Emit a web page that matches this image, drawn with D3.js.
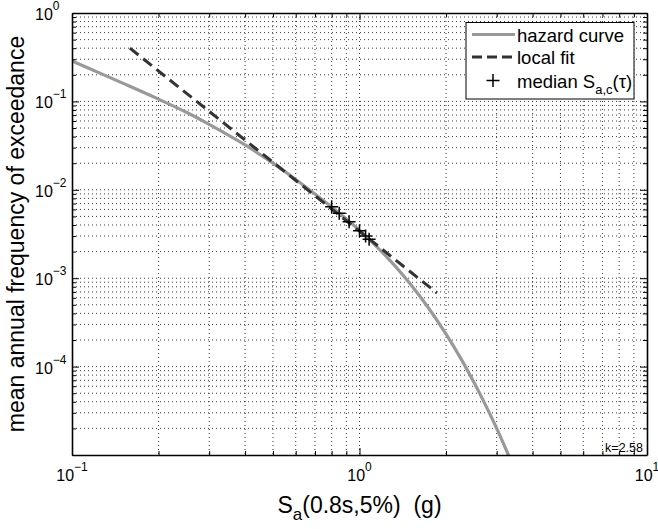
<!DOCTYPE html>
<html>
<head>
<meta charset="utf-8">
<script src="https://cdn.jsdelivr.net/npm/d3@7"></script>
<style>
  body { margin: 0; background: #fff; }
  text { font-family: "Liberation Sans", Arial, Helvetica, sans-serif; fill: #000; }
</style>
</head>
<body>
<div id="chart"></div>
<script>
// axis ranges and labelled decades
const xDomain = [0.1, 10];
const yDomain = [1e-5, 1];
const xTickExps = [-1, 0, 1];
const yTickExps = [0, -1, -2, -3, -4];

// hazard curve
const hazardSa   = [0.10, 0.125, 0.15, 0.20, 0.25, 0.30, 0.40, 0.50, 0.60, 0.80, 1.00, 1.25, 1.50, 1.75, 2.00, 2.25, 2.50, 2.75, 3.00, 3.25, 3.40];
const hazardFreq = [0.286, 0.209, 0.161, 0.106, 0.0753, 0.0551, 0.0322, 0.0200, 0.0131, 6.38e-3, 3.47e-3, 1.71e-3, 8.65e-4, 4.46e-4, 2.33e-4, 1.24e-4, 6.64e-5, 3.62e-5, 2.0e-5, 1.11e-5, 7.9e-6];

// local power-law fit (straight line in log-log)
const fitSa   = [0.159, 1.86];
const fitFreq = [0.40, 6.8e-4];

// median Sa,c(tau) points
const medianSa   = [0.80, 0.85, 0.92, 1.00, 1.05, 1.08];
const medianFreq = [6.44e-3, 5.42e-3, 4.36e-3, 3.45e-3, 3.0e-3, 2.75e-3];

const slopeLabel = "k=2.58";
const legendLabels = ["hazard curve", "local fit", "median S"];

function renderChart(selector) {
    const W = 658, H = 529;
    const margin = {top: 13, right: 11, bottom: 74, left: 72};
    const width = W - margin.left - margin.right;
    const height = H - margin.top - margin.bottom;

    const svg = d3.select(selector).append("svg")
        .attr("width", W)
        .attr("height", H);

    const g = svg.append("g")
        .attr("transform", `translate(${margin.left},${margin.top})`);

    const x = d3.scaleLog().domain(xDomain).range([0, width]);
    const y = d3.scaleLog().domain(yDomain).range([height, 0]);

    // every 1..9 x 10^n inside the domain
    const logValues = (dom) => {
        const out = [];
        const lo = Math.round(Math.log10(dom[0])), hi = Math.round(Math.log10(dom[1]));
        for (let e = lo; e <= hi; e++) {
            for (let m = 1; m <= 9; m++) {
                const v = m * Math.pow(10, e);
                if (v >= dom[0] * 0.999 && v <= dom[1] * 1.001) out.push(v);
            }
        }
        return out;
    };
    const isMajor = v => Math.abs(Math.log10(v) - Math.round(Math.log10(v))) < 1e-6;

    const xVals = logValues(xDomain);
    const yVals = logValues(yDomain);

    // dotted grid
    const grid = g.append("g").attr("class", "grid")
        .attr("stroke", "#222")
        .attr("stroke-width", 0.9)
        .attr("stroke-dasharray", "1,3");
    grid.selectAll(".gx")
        .data(xVals.filter(v => v > xDomain[0] * 1.001 && v < xDomain[1] * 0.999))
        .enter().append("line")
        .attr("x1", d => x(d)).attr("x2", d => x(d))
        .attr("y1", 0).attr("y2", height);
    grid.selectAll(".gy")
        .data(yVals.filter(v => v > yDomain[0] * 1.001 && v < yDomain[1] * 0.999))
        .enter().append("line")
        .attr("y1", d => y(d)).attr("y2", d => y(d))
        .attr("x1", 0).attr("x2", width);

    // clip for data lines
    svg.append("defs").append("clipPath").attr("id", "plot-clip")
        .append("rect").attr("width", width).attr("height", height);
    const plot = g.append("g").attr("clip-path", "url(#plot-clip)");

    const hazard = hazardSa.map((s, i) => ({s, f: hazardFreq[i]}));
    const fit = fitSa.map((s, i) => ({s, f: fitFreq[i]}));
    const medians = medianSa.map((s, i) => ({s, f: medianFreq[i]}));

    const line = d3.line()
        .x(d => x(d.s))
        .y(d => y(d.f));

    plot.append("path")
        .datum(hazard)
        .attr("fill", "none")
        .attr("stroke", "#999")
        .attr("stroke-width", 3.2)
        .attr("d", line.curve(d3.curveCatmullRom));

    plot.append("path")
        .datum(fit)
        .attr("fill", "none")
        .attr("stroke", "#333")
        .attr("stroke-width", 3)
        .attr("stroke-dasharray", "11,6")
        .attr("d", line.curve(d3.curveLinear));

    plot.selectAll(".median")
        .data(medians)
        .enter().append("path")
        .attr("class", "median")
        .attr("transform", d => `translate(${x(d.s)},${y(d.f)})`)
        .attr("d", "M-6.5,0H6.5M0,-6.5V6.5")
        .attr("stroke", "#000")
        .attr("stroke-width", 1.5);

    // axes with inward ticks on all four sides
    const tickLen = v => isMajor(v) ? 7 : 4;
    const styleAxis = (sel, horizontal, sign) => {
        sel.select(".domain").attr("stroke", "#000").attr("stroke-width", 1.6);
        sel.selectAll(".tick line")
            .attr("stroke", "#000")
            .attr("stroke-width", 1)
            .attr(horizontal ? "y2" : "x2", d => sign * tickLen(d));
        sel.selectAll(".tick text").remove();
    };

    g.append("g").attr("transform", `translate(0,${height})`)
        .call(d3.axisBottom(x).tickValues(xVals).tickSizeOuter(0).tickFormat(""))
        .call(sel => styleAxis(sel, true, -1));
    g.append("g")
        .call(d3.axisTop(x).tickValues(xVals).tickSizeOuter(0).tickFormat(""))
        .call(sel => styleAxis(sel, true, 1));
    g.append("g")
        .call(d3.axisLeft(y).tickValues(yVals).tickSizeOuter(0).tickFormat(""))
        .call(sel => styleAxis(sel, false, 1));
    g.append("g").attr("transform", `translate(${width},0)`)
        .call(d3.axisRight(y).tickValues(yVals).tickSizeOuter(0).tickFormat(""))
        .call(sel => styleAxis(sel, false, -1));

    // power-of-ten labels
    const expText = e => (e < 0 ? "\u2212" + Math.abs(e) : String(e));
    xTickExps.forEach(e => {
        const t = g.append("text")
            .attr("x", x(Math.pow(10, e)))
            .attr("y", height + 26)
            .attr("text-anchor", "middle")
            .style("font-size", "16px");
        t.append("tspan").text("10");
        t.append("tspan").attr("dy", -10).style("font-size", "12px").text(expText(e));
    });
    yTickExps.forEach(e => {
        const t = g.append("text")
            .attr("x", -37)
            .attr("y", y(Math.pow(10, e)) + 7)
            .style("font-size", "16px");
        t.append("tspan").text("10");
        t.append("tspan").attr("dy", -10).style("font-size", "12px").text(expText(e));
    });

    // axis titles
    svg.append("text")
        .attr("transform", `translate(24,${margin.top + height / 2}) rotate(-90)`)
        .attr("text-anchor", "middle")
        .style("font-size", "23px")
        .text("mean annual frequency of exceedance");

    const xl = svg.append("text")
        .attr("x", margin.left + width / 2)
        .attr("y", H - 16)
        .attr("text-anchor", "middle")
        .style("font-size", "23px");
    xl.append("tspan").text("S");
    xl.append("tspan").attr("dy", 7).style("font-size", "17px").text("a");
    xl.append("tspan").attr("dy", -7).text("(0.8s,5%)\u00a0 (g)");

    // slope annotation
    g.append("text")
        .attr("x", width - 4)
        .attr("y", height - 3.5)
        .attr("text-anchor", "end")
        .style("font-size", "12.5px")
        .text(slopeLabel);

    // legend
    const lg = svg.append("g").attr("transform", "translate(466,22.5)");
    lg.append("rect")
        .attr("width", 168).attr("height", 76.5)
        .attr("fill", "#fff")
        .attr("stroke", "#000")
        .attr("stroke-width", 1);
    const rowY = [12, 34.5, 58];
    lg.append("line")
        .attr("x1", 6).attr("x2", 49).attr("y1", rowY[0]).attr("y2", rowY[0])
        .attr("stroke", "#999").attr("stroke-width", 3.2);
    lg.append("line")
        .attr("x1", 6).attr("x2", 49).attr("y1", rowY[1]).attr("y2", rowY[1])
        .attr("stroke", "#333").attr("stroke-width", 3).attr("stroke-dasharray", "10,5");
    lg.append("path")
        .attr("transform", `translate(27,${rowY[2]})`)
        .attr("d", "M-6.5,0H6.5M0,-6.5V6.5")
        .attr("stroke", "#000").attr("stroke-width", 1.5);
    legendLabels.forEach((lab, i) => {
        const t = lg.append("text")
            .attr("x", 51)
            .attr("y", rowY[i] + 7)
            .style("font-size", "18.5px");
        t.append("tspan").text(lab);
        if (i === 2) {
            t.append("tspan").attr("dy", 6).style("font-size", "13px").text("a,c");
            t.append("tspan").attr("dy", -6).text("(\u03c4)");
        }
    });
}

renderChart("#chart");
</script>
</body>
</html>
